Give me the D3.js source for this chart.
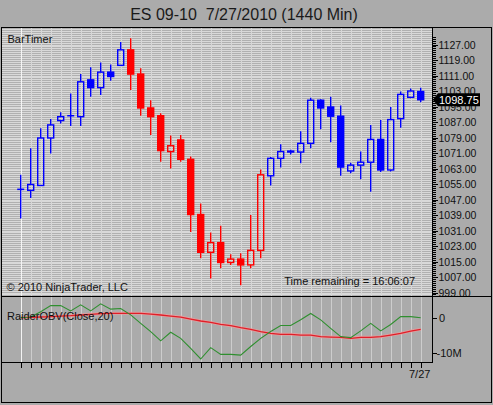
<!DOCTYPE html>
<html><head><meta charset="utf-8">
<script src="https://cdn.jsdelivr.net/npm/d3@7"></script>
<style>
body{margin:0;background:#ababab;}
svg{display:block;font-family:"Liberation Sans",Arial,sans-serif;}
</style>
</head><body>
<svg id="c" width="493" height="405"></svg>
<script>
// ---------- data ----------
const title = "ES 09-10  7/27/2010 (1440 Min)";
const dates = ["6/9","6/10","6/11","6/13","6/14","6/15","6/16","6/17","6/18","6/20","6/21","6/22","6/23","6/24","6/25","6/27","6/28","6/29","6/30","7/1","7/2","7/5","7/6","7/7","7/8","7/9","7/11","7/12","7/13","7/14","7/15","7/16","7/18","7/19","7/20","7/21","7/22","7/23","7/25","7/26","7/27"];
const open  = [1052.5,1052,1054.5,1079,1088,1090.5,1090,1109,1105,1113,1116.5,1124.5,1112,1094.5,1090.5,1072,1078,1068,1039.5,1020,1025,1014.75,1016.5,1013.5,1021,1059.5,1068.5,1072.25,1071.75,1076.25,1098.5,1095,1090.25,1062,1065,1066.5,1078.25,1062.5,1089,1100,1103];
const high  = [1060,1073.75,1084,1088.75,1092.25,1102,1112,1115.5,1118,1117,1128.5,1130.5,1115,1098.5,1091.75,1080.25,1080.5,1069.5,1045.25,1030.25,1033.75,1019,1019.5,1039.25,1062.75,1069.25,1075.75,1073,1082.5,1099.75,1099,1100.25,1095.75,1066.25,1072,1085.75,1088.25,1095,1103,1104.5,1105];
const low   = [1037.5,1048,1054.5,1071,1086.5,1085.25,1085.25,1100.25,1101.25,1108.5,1116.5,1103.75,1090.5,1080.5,1066.75,1063.25,1066.75,1030.5,1017,1006.5,1011.75,1013.5,1003,1011.75,1017,1054.5,1063.75,1070.5,1066,1073.75,1083.5,1076.75,1059.5,1060.75,1057.75,1051.25,1061.5,1061.75,1084.25,1099.5,1097.5];
const close = [1052.5,1055,1079,1085.75,1090,1090.5,1108,1105,1113,1110.75,1124.5,1112,1094.5,1090,1072.5,1075,1068,1039.5,1020,1025,1014.75,1016.5,1013.5,1021,1060,1068.5,1072,1071.75,1076.25,1098.5,1094.5,1090.25,1064,1065,1066.5,1078.25,1062.5,1088.5,1101.5,1103.25,1098.75];
const trend = [1,1,1,1,1,1,1,1,1,1,1,-1,-1,-1,-1,-1,-1,-1,-1,-1,-1,-1,-1,-1,-1,1,1,1,1,1,1,1,1,1,1,1,1,1,1,1,1];
// RaiderOBV (millions) and its signal line
const obv = [0.0,0.2,1.7,3.4,3.4,1.9,3.6,1.9,3.9,2.4,2.6,0.8,-1.6,-3.9,-6.5,-4.1,-5.8,-8.6,-11.6,-8.4,-10.3,-10.3,-10.5,-8.1,-5.8,-3.9,-2.2,-2.2,-0.6,1.2,-0.6,-3.0,-5.3,-5.6,-3.7,-1.6,-3.7,-1.9,0.3,0.3,0.0];
const obvSignal = [0.0,0.1,0.19,0.29,0.47,0.57,0.76,0.94,1.13,1.22,1.22,1.22,1.22,1.03,0.76,0.47,0.19,-0.37,-0.93,-1.31,-1.87,-2.25,-2.81,-3.28,-3.93,-4.4,-4.68,-4.68,-4.87,-4.87,-5.33,-5.43,-5.52,-5.8,-5.52,-5.52,-5.33,-4.87,-4.4,-3.74,-3.28];
const priceTicks = [999,1007,1015,1023,1031,1039,1047,1055,1063,1071,1079,1087,1095,1103,1111,1119,1127];
const obvTicks = [0,-10];
const obvTickLabels = ["0","-10M"];
const lastPrice = 1098.75;
const xLabels = ["7/27"];

// ---------- layout ----------
const svg = d3.select("#c");
const L = 2, R = 432, RR = 491;
const mainTop = 27, mainBot = 296, subBot = 362;
const idx = d3.range(open.length);
const x = d3.scalePoint().domain(idx).range([20.7, 420.7]);
const y = d3.scaleLinear().domain([999,1127]).range([293,45]);
const yo = d3.scaleLinear().domain([-10,0]).range([353.3,317.7]);
const up = "#0000ff", dn = "#ff0000";

svg.append("rect").attr("width",493).attr("height",405).attr("fill","#ababab");

// title
svg.append("text").attr("x",244).attr("y",19.5).attr("text-anchor","middle")
  .attr("font-size",16).attr("fill","#1a1a1a").style("white-space","pre").text(title);

// main plot background
svg.append("defs").append("clipPath").attr("id","mc").append("rect")
  .attr("x",L).attr("y",mainTop+1).attr("width",R-L).attr("height",mainBot-mainTop-1);
const gm = svg.append("g").attr("clip-path","url(#mc)");
gm.append("rect").attr("x",L).attr("y",mainTop).attr("width",R-L).attr("height",mainBot-mainTop).attr("fill","#b0b0b0");
gm.selectAll("line.h").data(d3.range(996,1137,1)).join("line")
  .attr("x1",L).attr("x2",R).attr("y1",d=>y(d)).attr("y2",d=>y(d))
  .attr("stroke","#d9d9d9").attr("stroke-width",1).attr("shape-rendering","crispEdges");
gm.selectAll("line.v").data(idx).join("line")
  .attr("x1",d=>Math.round(x(d))+0.5).attr("x2",d=>Math.round(x(d))+0.5)
  .attr("y1",mainTop).attr("y2",mainBot)
  .attr("stroke",d=>d===0?"#f4f4f4":"#d6d6d6").attr("stroke-width",1);

// candles
const gc = gm.append("g");
idx.forEach(i=>{
  const cx = x(i), col = trend[i] > 0 ? up : dn;
  const o = open[i], c = close[i];
  const top = y(Math.max(o,c)), bot = y(Math.min(o,c));
  const wick = (a,b)=>gc.append("line").attr("x1",cx).attr("x2",cx).attr("y1",a).attr("y2",b)
    .attr("stroke",col).attr("stroke-width",1.4);
  if (Math.abs(o-c) < 0.01) {
    wick(y(high[i]), y(low[i]));
    gc.append("line").attr("x1",cx-3.5).attr("x2",cx+3.5).attr("y1",top).attr("y2",top)
      .attr("stroke",col).attr("stroke-width",1.5);
  } else {
    const filled = c < o;
    if (y(high[i]) < top) wick(y(high[i]), top);
    if (y(low[i]) > bot) wick(bot, y(low[i]));
    gc.append("rect").attr("x",cx-3).attr("y",top).attr("width",6).attr("height",Math.max(bot-top,0.8))
      .attr("fill",filled?col:"none").attr("stroke",col).attr("stroke-width",1.4);
  }
});

// main texts
svg.append("text").attr("x",7.5).attr("y",42.5).attr("font-size",11).attr("fill","#111").text("BarTimer");
svg.append("text").attr("x",6.5).attr("y",290.5).attr("font-size",11).attr("fill","#111").text("\u00a9 2010 NinjaTrader, LLC");
svg.append("text").attr("x",415).attr("y",284.5).attr("text-anchor","end").attr("font-size",11).attr("fill","#111").text("Time remaining = 16:06:07");

// price axis
const ga = svg.append("g");
ga.selectAll("line.mt").data(d3.range(998,1132,1)).join("line")
  .attr("x1",R).attr("x2",d=>((d-999)%8===0)?R+6:R+3.5)
  .attr("y1",d=>y(d)).attr("y2",d=>y(d))
  .attr("stroke","#000").attr("stroke-width",1).attr("shape-rendering","crispEdges")
  .filter(d=>y(d)<mainTop+2||y(d)>mainBot-1).remove();
ga.selectAll("text").data(priceTicks).join("text")
  .attr("x",438.5).attr("y",d=>y(d)+3.8).attr("font-size",10.5).attr("fill","#111")
  .text(d=>d3.format(".2f")(d));

// current price marker
const yl = y(lastPrice);
svg.append("path")
  .attr("d",`M${R+1},${yl} L${R+6},${yl-6.5} L${R+48},${yl-6.5} L${R+48},${yl+6.5} L${R+6},${yl+6.5} Z`)
  .attr("fill","#000");
svg.append("text").attr("x",R+7).attr("y",yl+4).attr("font-size",11).attr("fill","#fff").text(d3.format(".2f")(lastPrice));

// sub panel
svg.append("clipPath").attr("id","sc").append("rect")
  .attr("x",L).attr("y",mainBot+1).attr("width",R-L).attr("height",subBot-mainBot-1);
const gs = svg.append("g").attr("clip-path","url(#sc)");
gs.selectAll("line.v").data(idx).join("line")
  .attr("x1",d=>Math.round(x(d))+0.5).attr("x2",d=>Math.round(x(d))+0.5)
  .attr("y1",mainBot).attr("y2",subBot)
  .attr("stroke",d=>d===0?"#f4f4f4":"#cdcdcd").attr("stroke-width",1);
const ln = d3.line().x((d,i)=>x(i)).y(d=>yo(d));
gs.append("path").datum(obvSignal).attr("d",ln).attr("fill","none").attr("stroke","#f39a9a").attr("stroke-width",3).attr("opacity",0.7);
gs.append("path").datum(obvSignal).attr("d",ln).attr("fill","none").attr("stroke","#e01e28").attr("stroke-width",1.3);
gs.append("path").datum(obv).attr("d",ln).attr("fill","none").attr("stroke","#2f8f2f").attr("stroke-width",1.1);
svg.append("text").attr("x",7).attr("y",319.5).attr("font-size",11).attr("fill","#111").text("RaiderOBV(Close,20)");

obvTicks.forEach((v,k)=>{
  svg.append("line").attr("x1",R).attr("x2",R+5).attr("y1",Math.round(yo(v))+0.5).attr("y2",Math.round(yo(v))+0.5).attr("stroke","#000");
  svg.append("text").attr("x",k===0?R+7:R+4.5).attr("y",yo(v)+4).attr("font-size",11).attr("fill","#111").text(obvTickLabels[k]);
});

// x axis
svg.selectAll("line.xt").data(idx).join("line")
  .attr("x1",d=>Math.round(x(d))+0.5).attr("x2",d=>Math.round(x(d))+0.5)
  .attr("y1",subBot).attr("y2",subBot+6).attr("stroke","#000");
svg.append("text").attr("x",x(idx.length-1)-1).attr("y",377.5).attr("text-anchor","middle")
  .attr("font-size",11).attr("fill","#111").text(xLabels[0]);

// frame lines
const fl = (x1,y1,x2,y2)=>svg.append("line").attr("x1",x1).attr("y1",y1).attr("x2",x2).attr("y2",y2)
  .attr("stroke","#000").attr("stroke-width",1).attr("shape-rendering","crispEdges");
fl(R+0.5,mainTop,R+0.5,subBot);
fl(L,mainBot+0.5,RR,mainBot+0.5);
fl(L,subBot+0.5,R+1,subBot+0.5);
svg.append("rect").attr("x",1.5).attr("y",mainTop+0.5).attr("width",490).attr("height",375)
  .attr("fill","none").attr("stroke","#000").attr("stroke-width",1).attr("shape-rendering","crispEdges");
</script>
</body></html>
